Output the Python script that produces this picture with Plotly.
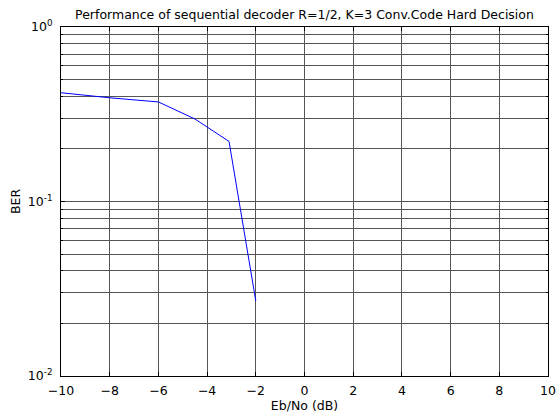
import plotly.graph_objects as go

ebno_db = [-10, -8, -6, -4.5, -3.1, -2]
ber = [0.42, 0.393, 0.372, 0.297, 0.221, 0.0269]

x_ticks = list(range(-10, 11, 2))
y_ticks = [0.01, 0.1, 1]
y_tick_text = ["10<sup>-2</sup>", "10<sup>-1</sup>", "10<sup>0</sup>"]
y_minor = [m * 10 ** e for e in (-2, -1) for m in range(2, 10)]

FAM = "DejaVu Sans, Liberation Sans, Arial, sans-serif"
font = dict(family=FAM, size=12.5, color="black")

fig = go.Figure()
fig.add_trace(go.Scatter(x=ebno_db, y=ber, mode="lines",
                         line=dict(color="#0000ff", width=1), showlegend=False))

fig.update_layout(
    width=560, height=415,
    margin=dict(l=61, r=12, t=27, b=39),
    paper_bgcolor="white", plot_bgcolor="white",
    font=font,
    title=dict(text="Performance of sequential decoder R=1/2, K=3 Conv.Code Hard Decision",
               x=(61 + 548) / 2 / 560, xanchor="center", y=1 - 15 / 415, yanchor="middle",
               font=font),
)
fig.update_xaxes(
    range=[-10, 10], tickvals=x_ticks, ticks="inside", ticklen=4, tickcolor="black",
    showgrid=True, gridcolor="#555555", gridwidth=1,
    showline=True, linecolor="black", linewidth=1, mirror="ticks",
    zeroline=False, ticklabelstandoff=3, tickfont=font, automargin=False,
    title=dict(text="Eb/No (dB)", standoff=1, font=font),
)
fig.update_yaxes(
    type="log", range=[-2, 0], tickvals=y_ticks, ticktext=y_tick_text,
    ticks="inside", ticklen=4, tickcolor="black",
    showgrid=True, gridcolor="#555555", gridwidth=1,
    minor=dict(tickvals=y_minor, showgrid=True, gridcolor="#555555", gridwidth=1,
               ticks="inside", ticklen=2, tickcolor="black"),
    showline=True, linecolor="black", linewidth=1, mirror="ticks",
    zeroline=False, ticklabelstandoff=5, tickfont=font, automargin=False,
    title=dict(text="BER", standoff=4, font=font),
)
fig.write_html("out.html")
